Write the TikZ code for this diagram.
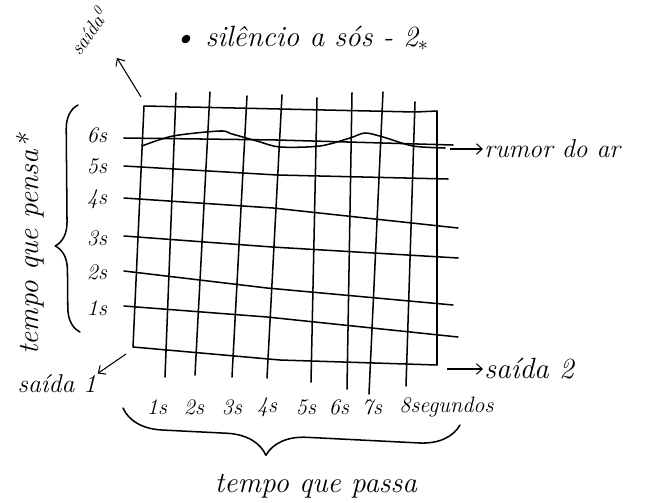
\documentclass[tikz,border=0pt]{standalone}
\usetikzlibrary{arrows.meta,decorations.pathreplacing}

\tikzset{
  pen/.style={line width=1.3pt, line cap=round, line join=round},
  arr/.style={line width=0.9pt, -{Straight Barb[length=5pt,width=9pt]}},
  hand/.style={font=\itshape\fontsize{25}{28}\selectfont, inner sep=1pt},
  tick/.style={font=\itshape\fontsize{19}{21}\selectfont, inner sep=1pt},
  curly/.style={pen, decorate, decoration={brace, amplitude=#1}},
}

\begin{document}
\begin{tikzpicture}[x=0.03cm, y=-0.03cm]
        \useasboundingbox[fill=white] (0,0) rectangle (667,503);

        % Frame of the grid
        \coordinate (nw) at (144,106);
        \coordinate (ne) at (437,111);
        \coordinate (se) at (437,365);
        \coordinate (sw) at (133,347);
        \draw[pen] (nw) -- (415,112) -- (ne) -- (se) -- (280,360) -- (sw) -- cycle;

        % Vertical lines (seconds that pass)
        \foreach \xa/\ya/\xb/\yb in {176/93/165/377, 210/92/195/375, 247/96/232/377,
            282/95/267/378, 317/98/311/382, 352/93/347/389, 383/92/369/394, 415/102/406/386} {
            \draw[pen] (\xa,\ya) -- (\xb,\yb);
        }

        % Horizontal lines (seconds that think)
        \foreach \ya/\xm/\ym/\xb/\yb in {138/277/140/453/145, 166/277/175/448/179,
            198/273/208/458/228, 236/272/247/458/258, 271/267/288/453/305, 306/267/317/458/337} {
            \draw[pen] (124,\ya) -- (\xm,\ym) -- (\xb,\yb);
        }

        % Wavy line
        \draw[pen] plot[smooth] coordinates {(142,146) (173,136) (220,131) (232,134) (257,141)
            (280,147) (320,146) (350,138) (365,133) (383,137) (413,146) (445,148)};

        % Axis labels
        \foreach \n/\y in {6/135, 5/166, 4/199, 3/238, 2/272, 1/308} {
            \node[tick] (p\n) at (97,\y) {\n{}s};
        }
        \foreach \n/\x in {1/157, 2/194, 3/232, 4/267, 5/306, 6/339, 7/372} {
            \node[tick] (t\n) at (\x,407) {\n{}s};
        }
        \node[tick, anchor=west] (t8) at (398,407) {8segundos};

        % Braces
        \draw[curly=0.72cm, decoration={aspect=0.38}] (80,332) -- (78,105);
        \draw[curly=1.2cm, decoration={aspect=0.57}] (460,425) -- (123,408);

        % Text nodes
        \node[hand, rotate=90] (pensa) at (30,245) {tempo que pensa*};
        \node[hand] (passa) at (316,486) {tempo que passa};
        \node[hand, anchor=west] (silencio) at (172,38) {\textbullet\ silêncio a sós - 2$_*$};
        \node[hand, font=\itshape\fontsize{17}{19}\selectfont, rotate=55] (saidazero) at (88,31) {saída\textsuperscript{0}};
        \node[hand, font=\itshape\fontsize{22}{24}\selectfont, anchor=west] (rumor) at (483,149) {rumor do ar};
        \node[hand, anchor=west] (saidadois) at (483,369) {saída 2};
        \node[hand, font=\itshape\fontsize{22}{24}\selectfont] (saidaum) at (57,384) {saída 1};

        % Arrows
        \coordinate (zerotail) at (141,97);
        \coordinate (zerotip) at (117,58);
        \coordinate (rumortail) at (450,149);
        \coordinate (doistail) at (447,369);
        \coordinate (umtail) at (126,354);
        \draw[arr] (zerotail) -- (zerotip);
        \draw[arr] (rumortail) -- (rumor.west);
        \draw[arr] (doistail) -- (saidadois.west);
        \draw[arr] (umtail) -- (saidaum.north east);

    \end{tikzpicture}
\end{document}
